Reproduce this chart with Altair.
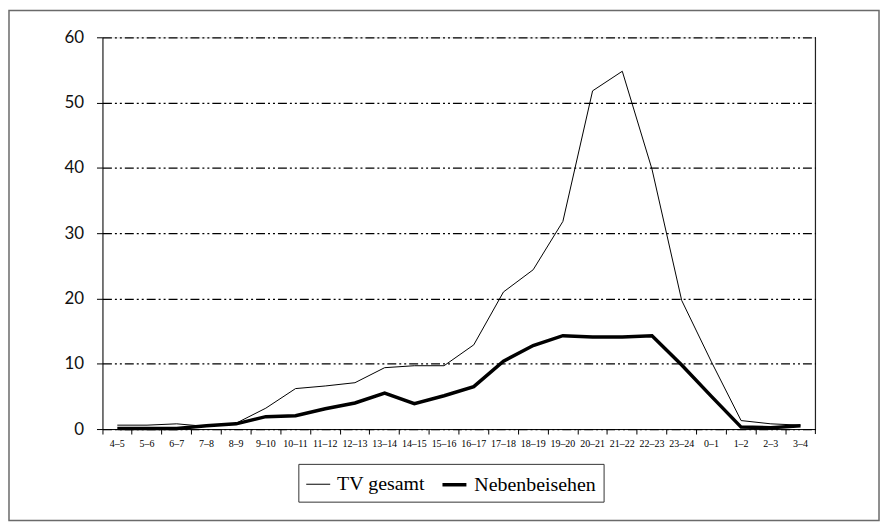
import altair as alt
import pandas as pd

hours = ["4\u20135", "5\u20136", "6\u20137", "7\u20138", "8\u20139", "9\u201310", "10\u201311",
         "11\u201312", "12\u201313", "13\u201314", "14\u201315", "15\u201316", "16\u201317",
         "17\u201318", "18\u201319", "19\u201320", "20\u201321", "21\u201322", "22\u201323",
         "23\u201324", "0\u20131", "1\u20132", "2\u20133", "3\u20134"]
tv_gesamt = [0.6, 0.6, 0.8, 0.4, 0.9, 3.2, 6.2, 6.6, 7.1, 9.4, 9.7, 9.7, 12.9, 21.0,
             24.4, 31.8, 51.8, 54.8, 39.8, 19.7, 10.3, 1.3, 0.8, 0.6]
nebenbei = [0.1, 0.1, 0.1, 0.5, 0.8, 1.9, 2.05, 3.1, 4.0, 5.5, 3.9, 5.1, 6.5, 10.4,
            12.8, 14.3, 14.1, 14.1, 14.3, 9.8, 5.0, 0.3, 0.2, 0.5]
series = ["TV gesamt", "Nebenbeisehen"]
y_ticks = [0, 10, 20, 30, 40, 50, 60]

W, H = 717, 394
PAD = {"left": 95, "top": 28, "right": 65, "bottom": 93}
SERIF = "Times New Roman, Liberation Serif, serif"

df = pd.DataFrame({
    "slot": hours * 2,
    "value": tv_gesamt + nebenbei,
    "series": [series[0]] * len(hours) + [series[1]] * len(hours),
})

lines = alt.Chart(df).mark_line(color="black", strokeJoin="miter").encode(
    x=alt.X("slot:N", sort=hours,
            scale=alt.Scale(type="band", paddingInner=0, paddingOuter=0),
            axis=alt.Axis(title=None, bandPosition=0,
                          ticks=True, tickSize=5, tickColor="black",
                          domainColor="black", labelAngle=0,
                          labelFont=SERIF, labelFontSize=10,
                          labelColor="black", labelPadding=5,
                          labelOverlap=False, labelBound=False, grid=False)),
    y=alt.Y("value:Q", scale=alt.Scale(domain=[0, 60], nice=False),
            axis=alt.Axis(title=None, values=y_ticks, tickSize=6, tickColor="black",
                          domainColor="black", labelFont="Lato", labelFontSize=17,
                          labelColor="#111111", labelPadding=13,
                          grid=True, gridColor="black", gridWidth=1.2,
                          gridDash=[9, 3, 2, 3, 2, 3])),
    strokeWidth=alt.StrokeWidth(
        "series:O", sort=series,
        scale=alt.Scale(domain=series, range=[1, 3.5]),
        legend=alt.Legend(title=None, orient="none", legendX=197, legendY=429,
                          direction="horizontal", symbolType="stroke",
                          symbolStrokeColor="black", symbolSize=580,
                          labelFont=SERIF, labelFontSize=20,
                          labelColor="black", strokeColor="#333333",
                          padding=7, columnPadding=9, labelOffset=6,
                          fillColor="white")),
)

frame_df = pd.DataFrame({"a": [0]})
right_edge = alt.Chart(frame_df).mark_rule(color="black", strokeWidth=1).encode(
    x=alt.value(W), y=alt.value(0), y2=alt.value(H + 5))
border = alt.Chart(frame_df).mark_rect(fill="transparent", stroke="#6a6a6a",
                                       strokeWidth=1.5).encode(
    x=alt.value(-PAD["left"] + 1), x2=alt.value(W + PAD["right"] - 1),
    y=alt.value(-PAD["top"] + 1), y2=alt.value(H + PAD["bottom"] - 1))

chart = alt.layer(border, lines, right_edge).properties(
    width=W, height=H, padding=PAD,
    autosize=alt.AutoSizeParams(type="none"),
).configure_view(stroke=None).configure(background="white")

chart.save("out.html", embed_options={"renderer": "svg", "actions": False})
